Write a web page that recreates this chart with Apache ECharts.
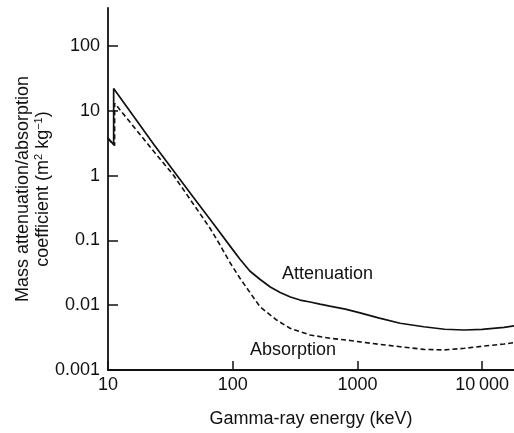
<!DOCTYPE html>
<html><head><meta charset="utf-8">
<script src="https://cdn.jsdelivr.net/npm/echarts@6/dist/echarts.min.js"></script>
<style>html,body{margin:0;padding:0;background:#fff}#c{width:514px;height:433px}</style>
</head><body><div id="c"></div>
<script>
// Gamma-ray energy (keV) and coefficients (m^2 kg^-1)
const attenuationEnergy = [10, 11.1, 11.1, 23.4, 48, 70, 100, 114, 137, 166, 200, 240, 290, 347, 417, 500, 600, 800, 1050, 1500, 2200, 3400, 5000, 7200, 10000, 15000, 18000];
const attenuationValue  = [3.8, 3.0, 22, 3.0, 0.47, 0.18, 0.072, 0.0516, 0.0337, 0.0249, 0.0191, 0.0157, 0.0134, 0.012, 0.0112, 0.0104, 0.0097, 0.0087, 0.0076, 0.0063, 0.00526, 0.00465, 0.00425, 0.00414, 0.00423, 0.00456, 0.00478];
const absorptionEnergy = [10, 11.3, 11.3, 23.4, 33.4, 65.8, 79, 95, 114, 138, 166, 225, 288, 417, 603, 872, 1050, 1520, 2200, 3400, 4900, 7200, 10400, 15000, 18000];
const absorptionValue  = [3.7, 2.9, 13.1, 2.33, 1.02, 0.154, 0.085, 0.0456, 0.0263, 0.0155, 0.0094, 0.0059, 0.0044, 0.00347, 0.00309, 0.00285, 0.00272, 0.00248, 0.00229, 0.00208, 0.00204, 0.00216, 0.00234, 0.00252, 0.00264];
const xTickValues = [10, 100, 1000, 10000];
const xTickLabels = ['10', '100', '1000', '10\u2009000'];
const yTickValues = [0.001, 0.01, 0.1, 1, 10, 100];
const yTickLabels = ['0.001', '0.01', '0.1', '1', '10', '100'];
const seriesNames = ['Attenuation', 'Absorption'];

const FONT = '"Liberation Sans", Arial, Helvetica, sans-serif';
const INK = '#111';

function pairs(xs, ys) { return xs.map((x, i) => [x, ys[i]]); }
function lookup(vals, labels, v) {
  for (let i = 0; i < vals.length; i++) if (Math.abs(vals[i] - v) / vals[i] < 1e-6) return labels[i];
  return '';
}

const chart = echarts.init(document.getElementById('c'), null, {renderer: 'canvas'});
chart.setOption({
  animation: false,
  backgroundColor: '#fff',
  grid: {left: 108, right: 0, top: 8, bottom: 63, containLabel: false, outerBoundsMode: 'none'},
  xAxis: {
    type: 'log', logBase: 10, min: 10, max: 18000,
    name: 'Gamma-ray energy (keV)', nameLocation: 'middle', nameGap: 40, nameMoveOverlap: false,
    nameTextStyle: {fontFamily: FONT, fontSize: 18, color: INK, verticalAlign: 'top'},
    axisLine: {show: true, lineStyle: {color: INK, width: 1.8}},
    axisTick: {show: true, inside: true, length: 9, customValues: xTickValues, lineStyle: {color: INK, width: 1.5}},
    axisLabel: {show: true, margin: 6, customValues: xTickValues, fontFamily: FONT, fontSize: 18, color: INK,
      formatter: v => lookup(xTickValues, xTickLabels, v)},
    splitLine: {show: false}, minorTick: {show: false}, minorSplitLine: {show: false}
  },
  yAxis: {
    type: 'log', logBase: 10, min: 0.001, max: 385,
    name: 'Mass attenuation/absorption\ncoefficient (m{sup|2} kg{sup|\u22121})',
    nameLocation: 'middle', nameGap: 55, nameRotate: 90, nameMoveOverlap: false,
    nameTextStyle: {fontFamily: FONT, fontSize: 18, lineHeight: 20, color: INK, align: 'center',
      rich: {sup: {fontFamily: FONT, fontSize: 11, lineHeight: 20, color: INK, verticalAlign: 'top'}}},
    axisLine: {show: true, lineStyle: {color: INK, width: 1.8}},
    axisTick: {show: true, inside: true, length: 10, customValues: yTickValues, lineStyle: {color: INK, width: 1.5}},
    axisLabel: {show: true, margin: 8, customValues: yTickValues, fontFamily: FONT, fontSize: 18, color: INK,
      formatter: v => lookup(yTickValues, yTickLabels, v)},
    splitLine: {show: false}, minorTick: {show: false}, minorSplitLine: {show: false}
  },
  series: [
    {name: seriesNames[0], type: 'line', data: pairs(attenuationEnergy, attenuationValue), showSymbol: false, symbol: 'none',
      smooth: false, lineStyle: {color: INK, width: 1.7, type: 'solid'}, z: 3},
    {name: seriesNames[1], type: 'line', data: pairs(absorptionEnergy, absorptionValue), showSymbol: false, symbol: 'none',
      smooth: false, lineStyle: {color: INK, width: 1.6, type: [5, 3]}, z: 2}
  ],
  graphic: [
    {type: 'text', x: 327.5, y: 274, style: {text: seriesNames[0], font: '18px ' + FONT, fill: INK, textAlign: 'center', textVerticalAlign: 'middle'}},
    {type: 'text', x: 293, y: 350.5, style: {text: seriesNames[1], font: '18px ' + FONT, fill: INK, textAlign: 'center', textVerticalAlign: 'middle'}}
  ]
});
</script>
</body></html>
